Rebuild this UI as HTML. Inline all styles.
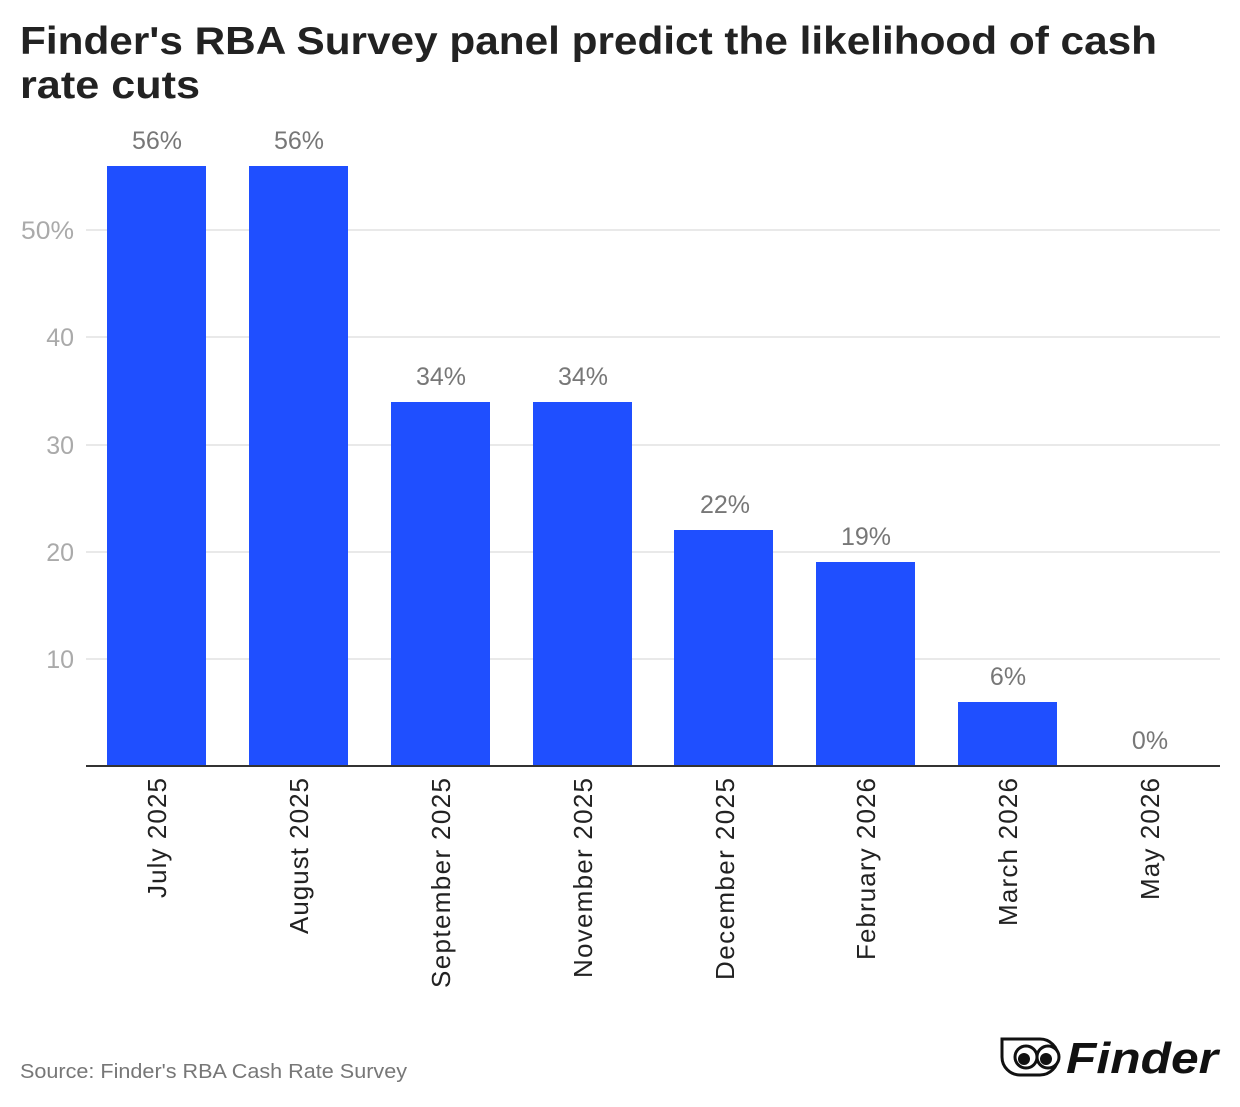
<!DOCTYPE html>
<html><head><meta charset="utf-8"><style>
body{margin:0;background:#fff;width:1240px;height:1102px;overflow:hidden;font-family:"Liberation Sans",sans-serif}
</style></head><body>
<svg width="1240" height="1102" xmlns="http://www.w3.org/2000/svg" font-family="Liberation Sans, sans-serif">
<text x="20" y="54" font-size="39" font-weight="bold" fill="#222" textLength="1137" lengthAdjust="spacingAndGlyphs">Finder's RBA Survey panel predict the likelihood of cash</text>
<text x="20" y="98" font-size="39" font-weight="bold" fill="#222" textLength="180" lengthAdjust="spacingAndGlyphs">rate cuts</text>
<g stroke="#e2e2e2" stroke-width="1.5">
<line x1="86" x2="1220" y1="230" y2="230"/><line x1="86" x2="1220" y1="337" y2="337"/><line x1="86" x2="1220" y1="445" y2="445"/><line x1="86" x2="1220" y1="552" y2="552"/><line x1="86" x2="1220" y1="659" y2="659"/>
</g>
<g font-size="25" fill="#aaa" text-anchor="end">
<text x="74" y="239" textLength="53" lengthAdjust="spacingAndGlyphs">50%</text><text x="74" y="346">40</text><text x="74" y="454">30</text><text x="74" y="561">20</text><text x="74" y="668">10</text>
</g>
<g fill="#1f4fff">
<rect x="107" y="166" width="99" height="600"/>
<rect x="249" y="166" width="99" height="600"/>
<rect x="391" y="402" width="99" height="364"/>
<rect x="533" y="402" width="99" height="364"/>
<rect x="674" y="530" width="99" height="236"/>
<rect x="816" y="562" width="99" height="204"/>
<rect x="958" y="702" width="99" height="64"/>
</g>
<line x1="86" x2="1220" y1="766" y2="766" stroke="#333" stroke-width="2"/>
<g font-size="25" fill="#777" text-anchor="middle">
<text x="157" y="149">56%</text><text x="299" y="149">56%</text><text x="441" y="385">34%</text><text x="583" y="385">34%</text><text x="725" y="513">22%</text><text x="866" y="545">19%</text><text x="1008" y="685">6%</text><text x="1150" y="749">0%</text>
</g>
<g font-size="26" fill="#222" text-anchor="end" lengthAdjust="spacingAndGlyphs">
<text transform="translate(166,778) rotate(-90)" textLength="120">July 2025</text>
<text transform="translate(308,778) rotate(-90)" textLength="156">August 2025</text>
<text transform="translate(450,778) rotate(-90)" textLength="210">September 2025</text>
<text transform="translate(592,778) rotate(-90)" textLength="200">November 2025</text>
<text transform="translate(734,778) rotate(-90)" textLength="202">December 2025</text>
<text transform="translate(875,778) rotate(-90)" textLength="182">February 2026</text>
<text transform="translate(1017,778) rotate(-90)" textLength="148">March 2026</text>
<text transform="translate(1159,778) rotate(-90)" textLength="122">May 2026</text>
</g>
<text x="20" y="1078" font-size="20" fill="#777" textLength="387" lengthAdjust="spacingAndGlyphs">Source: Finder's RBA Cash Rate Survey</text>
<g>
<path d="M1002,1039 h38 a18,18 0 0 1 0,36 h-20 a18,18 0 0 1 -18,-18 z" fill="none" stroke="#111" stroke-width="3"/>
<circle cx="1026" cy="1057" r="11" fill="none" stroke="#111" stroke-width="3"/>
<circle cx="1048" cy="1057" r="11" fill="#fff" stroke="#111" stroke-width="3"/>
<circle cx="1024" cy="1059" r="6" fill="#111"/><circle cx="1046" cy="1059" r="6" fill="#111"/>
<text x="1066" y="1073" font-size="44" font-weight="bold" font-style="italic" fill="#111" textLength="152" lengthAdjust="spacingAndGlyphs">Finder</text>
</g>
</svg>
</body></html>
